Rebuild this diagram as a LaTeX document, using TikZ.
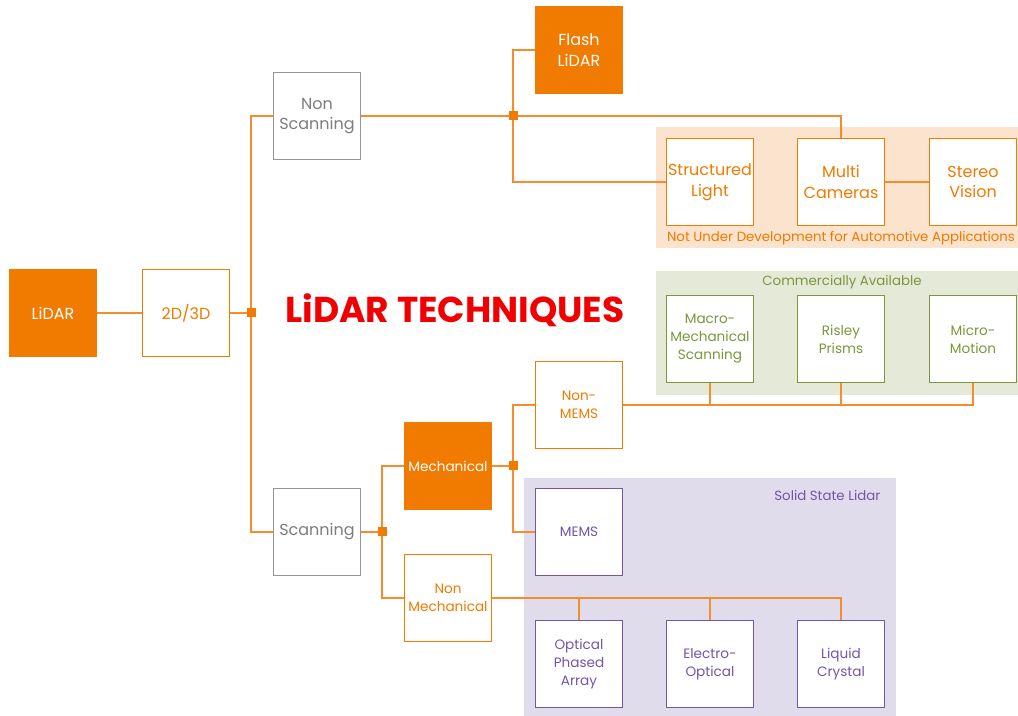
\documentclass[tikz,border=0pt]{standalone}
\usepackage{fontspec}
\setmainfont{Poppins}
\usepackage{xcolor}
\usetikzlibrary{positioning}

\definecolor{lorange}{RGB}{241,122,0}
\definecolor{linkorange}{RGB}{245,140,45}
\definecolor{boxgray}{RGB}{150,150,150}
\definecolor{txtgray}{RGB}{125,125,125}
\definecolor{peach}{RGB}{251,227,205}
\definecolor{sage}{RGB}{229,233,215}
\definecolor{olive}{RGB}{125,150,60}
\definecolor{lilac}{RGB}{224,220,235}
\definecolor{violet}{RGB}{115,85,170}
\definecolor{titlered}{RGB}{240,0,0}

\begin{document}
\begin{tikzpicture}[
  x=0.75pt, y=-0.75pt,
  font=\fontsize{12}{15.5}\selectfont,
  box/.style={draw=lorange, line width=1.2pt, fill=white, text=lorange, align=center, minimum width=65pt, minimum height=65pt, inner sep=0pt},
  solidbox/.style={box, fill=lorange, text=white},
  greybox/.style={box, draw=boxgray, text=txtgray},
  smallbox/.style={font=\fontsize{10.2}{13.5}\selectfont},
  greenbox/.style={box, smallbox, draw=olive, text=olive},
  purplebox/.style={box, smallbox, draw=violet, text=violet},
  link/.style={draw=linkorange, line width=1pt},
  junc/.style={fill=lorange, minimum size=6.5pt, inner sep=0pt},
  area/.style={font=\fontsize{10}{12}\selectfont}
]
  \useasboundingbox (0,0) rectangle (1018,716);

  % shaded groups
  \fill[peach] (656,127) rectangle (1018,248);
  \fill[sage] (656,271) rectangle (1018,395);
  \fill[lilac] (524,478) rectangle (896,716);
  \node[area, text=lorange] (notdev) at (841,238) {Not Under Development for Automotive Applications};
  \node[area, text=olive] (comm) at (842,282) {Commercially Available};
  \node[area, text=violet, anchor=east] (solid) at (885,495) {Solid State Lidar};

  % root
  \node[solidbox] (lidar) at (53,313) {LiDAR};
  \node[box] (dim) at (186,313) {2D/3D};
  \node[junc] (j1) at (251,313) {};
  \node[font=\bfseries\fontsize{27}{30}\selectfont, text=titlered] (title) at (455,310) {LiDAR TECHNIQUES};

  % non scanning branch
  \node[greybox] (nonscan) at (317,116) {Non\\Scanning};
  \node[junc] (j2) at (513,116) {};
  \node[solidbox] (flash) at (579,50) {Flash\\LiDAR};
  \node[box] (struct) at (710,182) {Structured\\Light};
  \node[box] (multi) at (841,182) {Multi\\Cameras};
  \node[box] (stereo) at (973,182) {Stereo\\Vision};

  % scanning branch
  \node[greybox] (scan) at (317,532) {Scanning};
  \node[junc] (j3) at (382,532) {};
  \node[solidbox, smallbox] (mech) at (448,466) {Mechanical};
  \node[box, smallbox] (nonmech) at (448,598) {Non\\Mechanical};
  \node[junc] (j4) at (513,466) {};
  \node[box, smallbox] (nonmems) at (579,405) {Non-\\MEMS};
  \node[purplebox] (mems) at (579,532) {MEMS};
  \node[greenbox] (macro) at (710,339) {Macro-\\Mechanical\\Scanning};
  \node[greenbox] (risley) at (841,339) {Risley\\Prisms};
  \node[greenbox] (micro) at (973,339) {Micro-\\Motion};
  \node[purplebox] (opa) at (579,664) {Optical\\Phased\\Array};
  \node[purplebox] (eo) at (710,664) {Electro-\\Optical};
  \node[purplebox] (lc) at (841,664) {Liquid\\Crystal};

  % connectors
  \draw[link] (lidar) -- (dim);
  \draw[link] (dim) -- (j1.center);
  \draw[link] (nonscan.west) -| (j1.center) |- (scan.west);
  \draw[link] (nonscan.east) -- (nonscan.east -| multi.north) -- (multi.north);
  \draw[link] (flash.west) -| (j2.center) |- (struct.west);
  \draw[link] (multi) -- (stereo);
  \draw[link] (scan) -- (j3.center);
  \draw[link] (mech.west) -| (j3.center) |- (nonmech.west);
  \draw[link] (mech) -- (j4.center);
  \draw[link] (nonmems.west) -| (j4.center) |- (mems.west);
  \draw[link] (nonmems.east) -- (nonmems.east -| micro.south) -- (micro.south);
  \foreach \b in {macro, risley}
    \draw[link] (\b.south) -- (\b.south |- nonmems.east);
  \draw[link] (nonmech.east) -- (nonmech.east -| lc.north) -- (lc.north);
  \foreach \b in {opa, eo}
    \draw[link] (\b.north) -- (\b.north |- nonmech.east);

  % junction marks on top
  \foreach \j in {j1, j2, j3, j4}
    \fill[lorange] ([shift={(-4.5,-4.5)}]\j.center) rectangle ([shift={(4.5,4.5)}]\j.center);
\end{tikzpicture}
\end{document}
